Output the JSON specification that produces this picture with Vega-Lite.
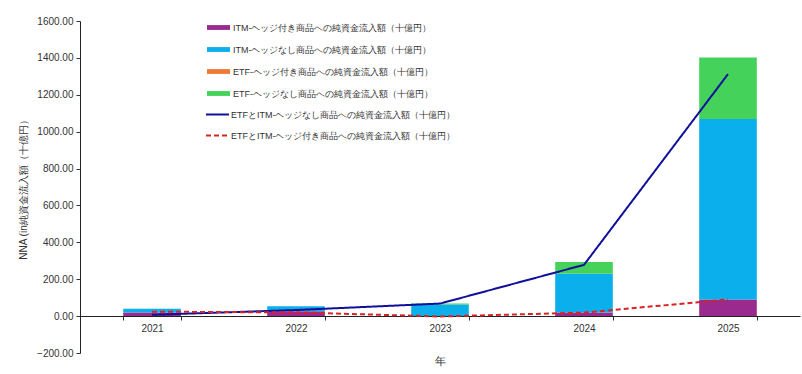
{
  "$schema": "https://vega.github.io/schema/vega-lite/v6.json",
  "width": 720,
  "height": 332,
  "autosize": {"type": "none"},
  "padding": {"left": 80, "top": 21, "right": 2, "bottom": 21},
  "background": "white",
  "config": {
    "view": {"stroke": null},
    "font": "Liberation Sans",
    "axis": {"labelFont": "Liberation Sans", "titleFont": "Liberation Sans", "labelColor": "#333333", "titleColor": "#333333", "domainColor": "#222222", "tickColor": "#333333", "grid": false, "titleFontWeight": "normal", "labelFontSize": 10, "titleFontSize": 10},
    "axisY": {"labelOverlap": false},
    "legend": {"labelFont": "Liberation Sans", "labelFontSize": 9, "labelColor": "#333333", "labelLimit": 400}
  },
  "data": {
    "values": [
      {"year": "2021", "series": "ITM-ヘッジ付き商品への純資金流入額（十億円）", "value": 20},
      {"year": "2021", "series": "ITM-ヘッジなし商品への純資金流入額（十億円）", "value": 20},
      {"year": "2021", "series": "ETF-ヘッジ付き商品への純資金流入額（十億円）", "value": 0},
      {"year": "2021", "series": "ETF-ヘッジなし商品への純資金流入額（十億円）", "value": 0},
      {"year": "2021", "series": "ETFとITM-ヘッジなし商品への純資金流入額（十億円）", "value": 7},
      {"year": "2021", "series": "ETFとITM-ヘッジ付き商品への純資金流入額（十億円）", "value": 24},
      {"year": "2022", "series": "ITM-ヘッジ付き商品への純資金流入額（十億円）", "value": 27},
      {"year": "2022", "series": "ITM-ヘッジなし商品への純資金流入額（十億円）", "value": 27},
      {"year": "2022", "series": "ETF-ヘッジ付き商品への純資金流入額（十億円）", "value": 0},
      {"year": "2022", "series": "ETF-ヘッジなし商品への純資金流入額（十億円）", "value": 0},
      {"year": "2022", "series": "ETFとITM-ヘッジなし商品への純資金流入額（十億円）", "value": 33},
      {"year": "2022", "series": "ETFとITM-ヘッジ付き商品への純資金流入額（十億円）", "value": 20},
      {"year": "2023", "series": "ITM-ヘッジ付き商品への純資金流入額（十億円）", "value": 0},
      {"year": "2023", "series": "ITM-ヘッジなし商品への純資金流入額（十億円）", "value": 63},
      {"year": "2023", "series": "ETF-ヘッジ付き商品への純資金流入額（十億円）", "value": 0},
      {"year": "2023", "series": "ETF-ヘッジなし商品への純資金流入額（十億円）", "value": 6},
      {"year": "2023", "series": "ETFとITM-ヘッジなし商品への純資金流入額（十億円）", "value": 68},
      {"year": "2023", "series": "ETFとITM-ヘッジ付き商品への純資金流入額（十億円）", "value": -2},
      {"year": "2024", "series": "ITM-ヘッジ付き商品への純資金流入額（十億円）", "value": 20},
      {"year": "2024", "series": "ITM-ヘッジなし商品への純資金流入額（十億円）", "value": 210},
      {"year": "2024", "series": "ETF-ヘッジ付き商品への純資金流入額（十億円）", "value": 0},
      {"year": "2024", "series": "ETF-ヘッジなし商品への純資金流入額（十億円）", "value": 63},
      {"year": "2024", "series": "ETFとITM-ヘッジなし商品への純資金流入額（十億円）", "value": 278},
      {"year": "2024", "series": "ETFとITM-ヘッジ付き商品への純資金流入額（十億円）", "value": 19},
      {"year": "2025", "series": "ITM-ヘッジ付き商品への純資金流入額（十億円）", "value": 90},
      {"year": "2025", "series": "ITM-ヘッジなし商品への純資金流入額（十億円）", "value": 979},
      {"year": "2025", "series": "ETF-ヘッジ付き商品への純資金流入額（十億円）", "value": 0},
      {"year": "2025", "series": "ETF-ヘッジなし商品への純資金流入額（十億円）", "value": 333},
      {"year": "2025", "series": "ETFとITM-ヘッジなし商品への純資金流入額（十億円）", "value": 1312},
      {"year": "2025", "series": "ETFとITM-ヘッジ付き商品への純資金流入額（十億円）", "value": 90}
    ]
  },
  "transform": [
    {"calculate": "indexof(['ITM-ヘッジ付き商品への純資金流入額（十億円）','ITM-ヘッジなし商品への純資金流入額（十億円）','ETF-ヘッジ付き商品への純資金流入額（十億円）','ETF-ヘッジなし商品への純資金流入額（十億円）','ETFとITM-ヘッジなし商品への純資金流入額（十億円）','ETFとITM-ヘッジ付き商品への純資金流入額（十億円）'], datum.series)", "as": "idx"}
  ],
  "encoding": {
    "x": {
      "field": "year", "type": "nominal",
      "scale": {"paddingInner": 0.6, "paddingOuter": 0.3},
      "axis": {"title": "年", "labelAngle": 0, "offset": -37, "tickBand": "extent", "tickSize": 4, "labelPadding": 3, "titlePadding": 22, "titleFontSize": 11}
    },
    "y": {
      "field": "value", "type": "quantitative",
      "scale": {"domain": [-200, 1600], "nice": false},
      "axis": {"title": "NNA (in純資金流入額（十億円）", "values": [-200, 0, 200, 400, 600, 800, 1000, 1200, 1400, 1600], "format": ".2f", "labelOverlap": false, "tickSize": 4, "labelPadding": 3, "titlePadding": 8}
    }
  },
  "layer": [
    {
      "transform": [{"filter": "datum.idx < 4"}],
      "mark": {"type": "bar"},
      "encoding": {
        "y": {
          "field": "value", "type": "quantitative", "stack": "zero",
          "scale": {"domain": [-200, 1600], "nice": false},
          "axis": {"title": "NNA (in純資金流入額（十億円）", "values": [-200, 0, 200, 400, 600, 800, 1000, 1200, 1400, 1600], "format": ".2f", "labelOverlap": false, "tickSize": 4, "labelPadding": 3, "titlePadding": 8}
        },
        "color": {
          "field": "series", "type": "nominal",
          "scale": {
            "domain": ["ITM-ヘッジ付き商品への純資金流入額（十億円）", "ITM-ヘッジなし商品への純資金流入額（十億円）", "ETF-ヘッジ付き商品への純資金流入額（十億円）", "ETF-ヘッジなし商品への純資金流入額（十億円）"],
            "range": ["#9B2A8E", "#0AAFEB", "#EE7A35", "#45D25A"]
          },
          "legend": {
            "orient": "none", "legendX": 127, "legendY": -5, "title": null, "padding": 0,
            "symbolType": "M-1,-0.21H1V0.21H-1Z", "symbolSize": 529, "symbolStrokeWidth": 0, "labelOffset": 3, "rowPadding": 5
          }
        },
        "order": {"field": "idx", "type": "quantitative"}
      }
    },
    {
      "transform": [{"filter": "datum.idx >= 4"}],
      "mark": {"type": "line", "strokeWidth": 2},
      "encoding": {
        "stroke": {
          "field": "series", "type": "nominal",
          "scale": {"domain": ["ETFとITM-ヘッジなし商品への純資金流入額（十億円）", "ETFとITM-ヘッジ付き商品への純資金流入額（十億円）"], "range": ["#10109A", "#D42424"]},
          "legend": {
            "orient": "none", "legendX": 125, "legendY": 81, "title": null, "padding": 0,
            "symbolType": "stroke", "symbolSize": 529, "symbolStrokeWidth": 2, "labelOffset": 1, "rowPadding": 3
          }
        },
        "strokeDash": {
          "field": "series", "type": "nominal",
          "scale": {"domain": ["ETFとITM-ヘッジなし商品への純資金流入額（十億円）", "ETFとITM-ヘッジ付き商品への純資金流入額（十億円）"], "range": [[1, 0], [5, 3]]},
          "legend": {
            "orient": "none", "legendX": 125, "legendY": 81, "title": null, "padding": 0,
            "symbolType": "stroke", "symbolSize": 529, "symbolStrokeWidth": 2, "labelOffset": 1, "rowPadding": 3
          }
        }
      }
    }
  ]
}
